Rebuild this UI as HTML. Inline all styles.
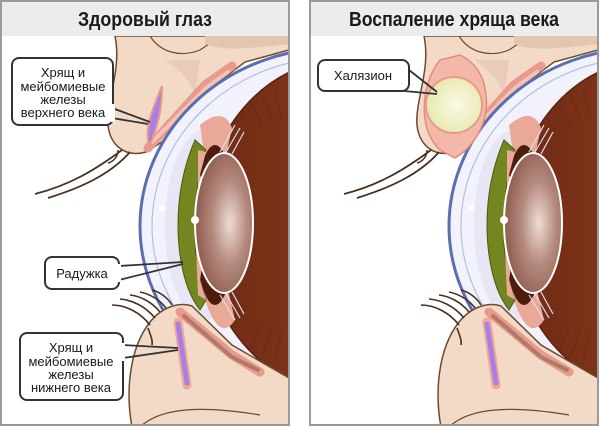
<!DOCTYPE html>
<html><head><meta charset="utf-8">
<style>
html,body{margin:0;padding:0;background:#fff;width:600px;height:427px;overflow:hidden}
svg{display:block}
text{font-family:"Liberation Sans",sans-serif;fill:#1a1a1a}
</style></head><body>
<svg width="600" height="427" viewBox="0 0 600 427" xmlns="http://www.w3.org/2000/svg">
<defs>
<radialGradient id="lg" cx="0.6" cy="0.5" r="0.6">
<stop offset="0" stop-color="#efdcd6"/><stop offset="0.5" stop-color="#b58a7e"/><stop offset="1" stop-color="#8c5a4c"/>
</radialGradient>
<radialGradient id="ch" cx="0.55" cy="0.5" r="0.6">
<stop offset="0" stop-color="#fbfbe6"/><stop offset="1" stop-color="#e6e6a8"/>
</radialGradient>
<linearGradient id="br" x1="0" x2="1"><stop offset="0" stop-color="#6e2a14"/><stop offset="0.6" stop-color="#8a3a1c"/><stop offset="1" stop-color="#b4582c"/></linearGradient>
<clipPath id="pc"><rect x="2" y="36" width="286" height="388"/></clipPath>
<g id="eye">
 <g clip-path="url(#pc)">
  <rect x="2" y="36" width="286" height="388" fill="#fff"/>
  <!-- upper skin -->
  <path d="M115,36 C122,70 106,100 108,125 C110,145 125,158 146,152 L165,140 L205,92 L245,62 L289,50 L289,36 Z" fill="#f2dac6" stroke="#6b4a32" stroke-width="1.5"/>
  <path d="M150,36 C160,52 180,58 200,50 L215,40 L289,38" fill="none" stroke="#6b4a32" stroke-width="1.2"/>
  <path d="M205,44 C220,50 240,50 289,44 L289,36 L205,36 Z" fill="#e3c6b0"/>
  <path d="M165,60 C180,70 190,80 195,95 L200,60 Z" fill="#e8ccb8"/>
  <!-- upper lid conjunctiva -->
  <path d="M148,148 L205,85 L232,66" fill="none" stroke="#e89a8c" stroke-width="9" stroke-linecap="round"/>
  <path d="M152,142 L206,88 L228,72" fill="none" stroke="#f5c3b6" stroke-width="4" stroke-linecap="round"/>
  <!-- upper gland -->
  <path d="M148,140 C146,125 152,110 162,86 C162,110 158,125 150,145 Z" fill="#a97fe6" stroke="#e89a8c" stroke-width="2"/>
  <!-- upper lashes -->
  <path d="M122,150 C95,170 70,185 35,194" fill="none" stroke="#4a3020" stroke-width="1.8"/>
  <path d="M130,152 C110,175 80,188 48,198" fill="none" stroke="#4a3020" stroke-width="1.8"/>
  <path d="M118,150 C118,158 112,162 108,163" fill="none" stroke="#4a3020" stroke-width="1.5"/>
  <!-- globe -->
  <ellipse cx="335" cy="226" rx="195" ry="178" fill="#f1f2fb" stroke="#5a6fb0" stroke-width="3"/>
  <ellipse cx="338" cy="226" rx="186" ry="169" fill="none" stroke="#b4bee0" stroke-width="1.2"/>
  <ellipse cx="205" cy="225" rx="40" ry="95" fill="#e6e6f4"/>
  <!-- interior -->
  <ellipse cx="342" cy="226" rx="140" ry="166" fill="url(#br)" stroke="#5a2210" stroke-width="1.5"/>
  <g stroke="#5c2412" stroke-width="0.8" opacity="0.6">
   <path d="M250,100 L262,125 M262,95 L272,122 M274,90 L282,118 M250,350 L262,325 M262,355 L272,328 M274,360 L282,332"/>
  </g>
  <!-- pink ciliary -->
  <path d="M200,125 C212,115 225,110 232,128 L225,160 L205,160 Z" fill="#eaa898"/>
  <path d="M205,300 C215,330 225,335 235,320 L228,290 L208,290 Z" fill="#eaa898"/>
  <!-- iris -->
  <ellipse cx="215" cy="225" rx="20" ry="80" fill="#4e1c0c"/>
  <path d="M195,140 C182,170 178,200 178,225 C178,255 184,290 200,310 L206,300 C196,270 194,245 195,225 C196,195 198,170 206,150 Z" fill="#74861f" stroke="#4b5a12" stroke-width="1"/>
  <path d="M198,150 L206,152 L200,175 L205,185 L198,200 Z M196,250 L204,255 L200,280 L206,300 L198,295 Z" fill="#eaa898"/>
  <!-- zonules -->
  <path d="M220,152 L235,125 M226,152 L240,128 M232,154 L244,132 M220,295 L235,320 M226,294 L240,318 M232,292 L244,314" stroke="#dde" stroke-width="1.2"/>
  <!-- lens -->
  <ellipse cx="224" cy="223" rx="29" ry="70" fill="url(#lg)" stroke="#fff" stroke-width="2"/>
  <circle cx="162" cy="208" r="3" fill="#fff"/>
  <circle cx="195" cy="220" r="4" fill="#fff"/>
  <!-- lower skin -->
  <path d="M132,427 C126,395 128,350 150,322 C163,306 180,302 192,306 L232,345 L289,378 L289,427 Z" fill="#f2dac6" stroke="#6b4a32" stroke-width="1.5"/>
  <path d="M140,427 C160,408 200,405 260,415" fill="none" stroke="#6b4a32" stroke-width="1.2"/>
  <path d="M180,312 L232,355 L260,372" fill="none" stroke="#e89a8c" stroke-width="9" stroke-linecap="round"/>
  <path d="M184,316 L232,357 L258,370" fill="none" stroke="#b07a6a" stroke-width="4" stroke-linecap="round"/>
  <path d="M178,322 L182,350 L187,385" fill="none" stroke="#f0a898" stroke-width="9" stroke-linecap="round"/>
  <path d="M178,324 L182,350 L187,383" fill="none" stroke="#a97fe6" stroke-width="5" stroke-linecap="round"/>
  <!-- lower lashes -->
  <g fill="none" stroke="#4a3020" stroke-width="1.6">
   <path d="M150,325 C140,312 125,305 112,305"/>
   <path d="M155,318 C145,306 132,300 120,299"/>
   <path d="M160,312 C152,302 140,296 130,295"/>
   <path d="M166,308 C160,300 150,294 140,292"/>
   <path d="M172,305 C168,298 160,292 152,290"/>
   <path d="M148,328 C150,334 153,340 152,345"/>
  </g>
 </g>
 <rect x="1" y="1" width="288" height="424" fill="none" stroke="#9a9a9a" stroke-width="2"/>
 <rect x="2" y="2" width="286" height="34" fill="#ececec"/>
</g>
</defs>

<use href="#eye"/>
<use href="#eye" transform="translate(309,0)"/>

<text x="145" y="26" font-size="20" text-anchor="middle" font-weight="bold" textLength="134" lengthAdjust="spacingAndGlyphs">Здоровый глаз</text>
<text x="454" y="26" font-size="20" text-anchor="middle" font-weight="bold" textLength="210" lengthAdjust="spacingAndGlyphs">Воспаление хряща века</text>

<!-- chalazion on right -->
<path d="M440,60 C420,85 418,130 440,150 L455,158 C470,150 490,125 486,95 C484,75 475,62 460,55 Z" fill="#f4b8aa" stroke="#e08c7c" stroke-width="1.5"/>
<circle cx="454" cy="105" r="28" fill="url(#ch)" stroke="#e89a8c" stroke-width="2"/>
<circle cx="458" cy="104" r="10" fill="none" stroke="#f2f2d4" stroke-width="2"/>

<g fill="#fff" stroke="#333" stroke-width="2">
 <rect x="12" y="58" width="101" height="67" rx="7"/>
 <rect x="45" y="257" width="74" height="32" rx="7"/>
 <rect x="20" y="333" width="103" height="67" rx="7"/>
 <rect x="318" y="60" width="91" height="31" rx="7"/>
</g>
<g stroke="#333" stroke-width="1.8" fill="none">
 <path d="M112,108 L150,122 M112,118 L148,124"/>
 <path d="M119,266 L183,262 M119,280 L183,264"/>
 <path d="M123,345 L178,348 M123,358 L178,350"/>
 <path d="M409,70 L437,92 M404,91 L437,94"/>
</g>
<rect x="111" y="104" width="4" height="18" fill="#fff"/>
<rect x="117" y="264" width="4" height="18" fill="#fff"/>
<rect x="121" y="343" width="4" height="18" fill="#fff"/>
<g font-size="13" text-anchor="middle">
 <text x="63" y="77">Хрящ и</text>
 <text x="63" y="91">мейбомиевые</text>
 <text x="63" y="104">железы</text>
 <text x="63" y="117">верхнего века</text>
 <text x="82" y="278">Радужка</text>
 <text x="71" y="352">Хрящ и</text>
 <text x="71" y="366">мейбомиевые</text>
 <text x="71" y="379">железы</text>
 <text x="71" y="392">нижнего века</text>
 <text x="363" y="80">Халязион</text>
</g>
</svg>
</body></html>
